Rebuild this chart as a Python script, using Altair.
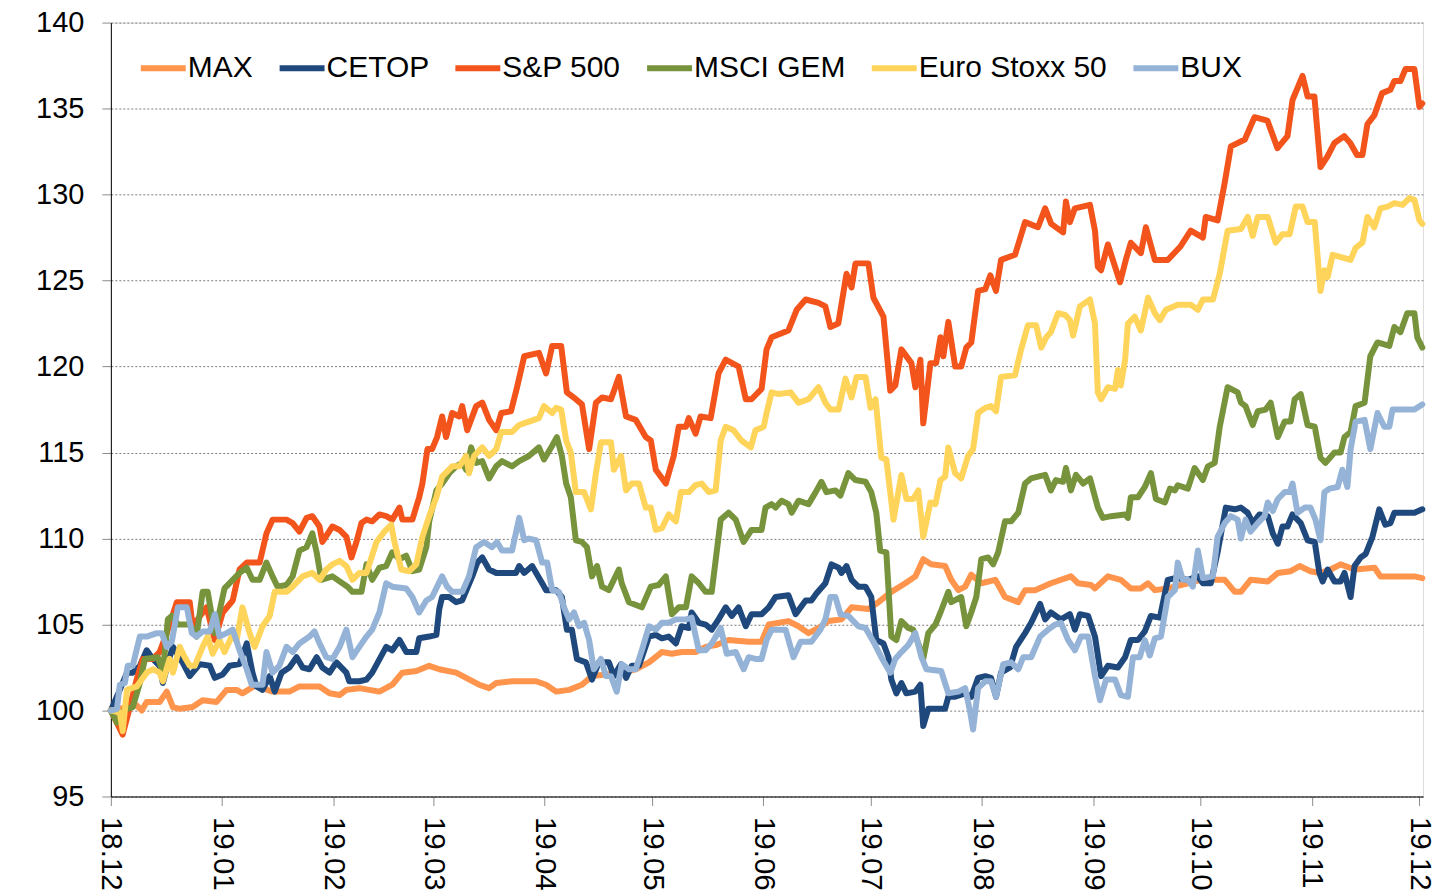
import altair as alt
import pandas as pd

START = pd.Timestamp("2018-12-01")
SERIES = ["MAX", "CETOP", "S&P 500", "MSCI GEM", "Euro Stoxx 50", "BUX"]
COLORS = ["#FF944D", "#1F497D", "#F2541B", "#77933C", "#FFD45A", "#95B3D7"]
Y_TICKS = [95, 100, 105, 110, 115, 120, 125, 130, 135, 140]
MONTHS = [(2018, 12)] + [(2019, m) for m in range(1, 13)]

# (days since 2018-12-01, index value)
MAX_PTS = [(0,100),(7.2,100.3),(8.6,100.0),(10.0,100.5),(13.6,100.5),(15.6,101.1),(17.3,100.2),(19.2,100.1),(22.8,100.2),(25.6,100.6),(29.5,100.5),(32.3,101.2),(35.1,101.2),(36.7,101.0),(40.6,101.5),(42.3,101.3),(45.1,101.1),(49.8,101.1),(52.6,101.4),(58.2,101.4),(61.0,101.0),(63.8,100.9),(65.7,101.2),(69.3,101.3),(74.9,101.1),(78.5,101.5),(81.3,102.2),(85.2,102.3),(88.8,102.6),(91.6,102.4),(96.3,102.2),(99.1,101.9),(102.7,101.5),(105.5,101.3),(107.5,101.6),(111.9,101.7),(118.6,101.7),(121.4,101.5),(124.2,101.1),(127.8,101.2),(131.4,101.5),(134.2,102.0),(138.1,102.1),(142.5,102.2),(146.4,102.4),(150.1,102.8),(153.7,103.4),(156.5,103.3),(159.2,103.4),(163.1,103.4),(165.9,103.7),(168.7,103.8),(172.3,104.1),(177.9,104.0),(181.5,104.0),(183.5,105.0),(189.0,105.2),(191.8,104.9),(194.6,104.5),(197.4,104.8),(200.2,105.2),(203.8,105.3),(206.6,106.0),(211.3,105.9),(214.1,106.3),(217.7,106.9),(221.6,107.4),(224.4,107.8),(226.6,108.8),(228.8,108.5),(232.7,108.4),(234.4,107.6),(236.4,107.0),(238.3,107.2),(240.0,107.9),(242.8,107.4),(246.7,107.6),(249.4,106.6),(253.1,106.3),(255.0,107.0),(257.8,107.0),(262.2,107.4),(267.8,107.8),(269.8,107.4),(273.4,107.3),(274.5,107.1),(278.1,107.8),(281.7,107.6),(284.5,107.1),(287.3,107.1),(289.3,107.4),(291.2,107.0),(294.8,107.1),(300.4,107.4),(304.0,107.6),(310.7,107.6),(313.5,106.9),(315.2,106.9),(317.9,107.6),(322.7,107.5),(325.5,108.0),(329.1,108.1),(331.6,108.4),(334.6,108.1),(337.4,108.0),(340.2,108.2),(343.0,108.5),(346.9,108.2),(352.5,108.3),(354.1,107.8),(359.7,107.8),(363.6,107.8),(365.8,107.7)]

CETOP_PTS = [(0,100),(2.5,101.2),(4.5,102.2),(6.1,102.2),(8.1,102.6),(10.0,103.5),(11.7,103.0),(13.6,102.6),(14.5,101.6),(16.4,103.1),(17.3,103.7),(20.0,102.8),(22.0,102.0),(24.8,102.7),(27.6,102.6),(29.0,101.9),(31.2,102.1),(33.1,102.6),(35.9,102.7),(37.9,103.9),(39.5,102.2),(40.6,101.4),(42.3,101.2),(44.3,102.0),(45.7,101.1),(47.6,102.2),(49.8,102.5),(51.8,103.1),(53.5,102.5),(55.4,102.4),(57.4,103.1),(59.0,102.5),(61.0,102.2),(62.9,102.8),(65.7,102.2),(66.5,101.7),(69.3,101.7),(71.3,101.8),(72.9,102.2),(76.8,103.7),(78.5,103.5),(80.5,104.1),(82.4,103.4),(85.2,103.4),(86.0,104.2),(88.8,104.3),(90.8,104.4),(91.6,105.9),(92.4,106.6),(94.4,106.6),(96.3,106.3),(98.0,106.4),(99.4,107.1),(100.8,107.8),(102.2,108.6),(103.6,108.9),(105.5,108.2),(107.5,108.0),(113.0,108.0),(113.9,108.4),(115.3,108.0),(117.5,108.4),(120.3,107.4),(121.4,107.0),(124.2,107.0),(125.8,106.6),(127.2,104.7),(128.6,104.7),(130.0,103.0),(132.5,102.8),(134.2,101.8),(136.1,102.8),(138.9,102.8),(140.3,102.0),(142.3,102.7),(143.7,101.9),(145.3,102.6),(147.3,102.6),(150.1,104.3),(152.0,104.4),(153.7,104.2),(155.6,104.3),(157.6,103.9),(159.2,104.9),(161.2,104.8),(162.0,105.7),(164.0,105.1),(165.9,105.0),(167.6,104.7),(169.5,105.3),(171.5,106.0),(173.2,105.5),(175.1,106.0),(177.1,104.9),(178.7,105.6),(181.5,105.6),(183.5,106.0),(185.4,106.6),(189.0,106.7),(191.0,105.6),(193.8,106.4),(195.4,106.4),(196.8,106.8),(199.3,107.4),(201.0,108.5),(203.0,108.3),(203.8,108.0),(205.2,108.4),(206.6,107.6),(208.5,107.2),(210.5,107.2),(212.1,106.6),(213.5,104.1),(215.5,103.9),(216.9,103.1),(217.7,101.8),(219.1,101.0),(220.5,101.6),(221.9,101.0),(224.4,101.1),(225.8,101.5),(226.6,99.1),(228.0,100.1),(232.7,100.1),(233.6,100.8),(235.5,100.8),(238.3,101.0),(240.0,100.8),(241.9,101.9),(243.9,102.0),(245.5,101.9),(246.9,100.8),(248.3,102.2),(250.8,102.5),(252.5,103.7),(255.0,104.5),(256.7,105.1),(259.2,106.2),(260.6,105.3),(262.2,105.7),(265.0,105.3),(267.5,105.6),(268.9,104.7),(270.3,105.6),(272.6,105.5),(274.5,104.3),(276.2,102.0),(278.1,102.6),(280.9,102.5),(282.9,103.1),(284.5,104.1),(286.5,104.1),(288.4,104.6),(290.1,105.5),(292.6,105.4),(294.8,107.6),(296.8,107.7),(300.4,107.6),(303.2,107.8),(304.6,107.4),(306.8,107.4),(308.7,109.2),(311.0,111.8),(313.5,111.7),(315.2,111.8),(317.1,111.5),(318.5,110.9),(320.4,111.4),(322.7,111.3),(324.1,110.3),(325.5,109.7),(326.8,110.7),(328.2,110.7),(329.6,111.4),(331.9,110.9),(333.8,109.9),(335.8,109.8),(337.1,108.0),(338.0,107.5),(339.4,108.2),(341.3,107.5),(343.0,107.5),(344.1,108.0),(345.8,106.6),(346.9,108.4),(348.6,108.9),(350.0,109.1),(351.9,110.1),(353.8,111.7),(355.5,110.8),(356.9,110.9),(358.0,111.5),(363.6,111.5),(365.8,111.7)]

SP500_PTS = [(0,100),(3.3,98.6),(5.3,100.2),(7.2,101.8),(8.9,103.0),(11.7,103.0),(13.6,103.4),(15.6,104.5),(18.4,106.3),(22.0,106.3),(22.8,104.9),(26.7,106.0),(29.0,104.1),(31.2,105.7),(34.0,106.4),(35.9,108.2),(37.9,108.6),(41.5,108.6),(43.4,110.3),(45.1,111.1),(49.0,111.1),(50.7,110.9),(52.6,110.4),(54.6,111.2),(56.2,111.3),(58.2,110.7),(59.0,109.8),(61.8,110.7),(63.8,110.5),(65.7,110.1),(67.1,108.9),(68.5,109.8),(69.9,110.9),(71.3,111.1),(72.9,111.0),(74.9,111.4),(76.8,111.3),(78.5,111.1),(80.5,111.8),(81.3,111.1),(84.1,111.1),(86.0,112.4),(86.9,113.2),(88.3,115.2),(89.6,115.2),(91.0,115.9),(92.4,117.1),(93.5,115.9),(95.2,117.3),(97.2,117.1),(98.0,117.7),(99.4,116.3),(101.9,117.7),(103.6,117.9),(105.5,116.9),(107.5,116.3),(108.9,117.3),(111.6,117.4),(113.3,118.8),(115.3,120.6),(119.4,120.8),(121.4,119.6),(123.1,121.2),(125.6,121.2),(127.2,118.5),(129.7,118.1),(131.4,117.8),(133.4,115.2),(135.3,117.9),(137.0,118.2),(139.5,118.1),(141.7,119.4),(143.7,117.1),(146.4,116.9),(149.2,115.9),(150.6,115.7),(152.0,114.0),(154.8,113.2),(157.0,114.8),(158.4,116.5),(160.4,116.5),(161.2,117.0),(163.1,116.1),(164.5,117.1),(167.3,117.0),(169.5,119.6),(171.5,120.4),(175.1,120.0),(177.1,118.1),(178.7,118.1),(181.5,118.7),(182.9,121.0),(184.3,121.7),(189.0,122.1),(191.3,123.3),(193.8,123.9),(197.4,123.7),(199.3,123.5),(200.7,122.3),(202.9,122.5),(205.2,125.4),(206.6,124.6),(207.7,126.0),(211.3,126.0),(212.7,124.0),(215.5,122.9),(217.4,118.6),(218.8,118.9),(220.5,121.0),(223.3,120.2),(224.4,118.8),(225.8,120.4),(226.6,116.7),(228.6,120.2),(230.2,120.2),(231.4,121.7),(232.2,120.6),(233.6,122.6),(235.5,120.0),(237.2,120.0),(238.6,121.1),(240.0,121.4),(241.9,124.4),(243.9,124.5),(245.3,125.3),(246.9,124.4),(248.3,126.2),(252.2,126.5),(255.0,128.4),(258.6,128.1),(260.6,129.2),(262.3,128.3),(265.6,127.8),(266.4,129.6),(267.5,128.4),(268.9,129.2),(273.1,129.4),(274.5,127.9),(275.3,125.8),(276.2,125.6),(278.1,127.1),(281.5,124.9),(283.1,126.2),(284.5,127.2),(287.3,126.6),(288.7,128.1),(291.2,126.2),(294.8,126.2),(298.4,127.0),(301.2,127.9),(304.6,127.5),(305.4,128.7),(308.7,128.5),(310.7,130.7),(312.4,132.8),(316.3,133.2),(319.0,134.5),(322.6,134.3),(325.4,132.7),(328.2,133.4),(329.6,135.5),(332.4,136.9),(333.8,135.7),(335.7,135.7),(337.4,131.6),(339.3,132.2),(341.3,133.0),(344.0,133.4),(345.7,133.0),(347.6,132.3),(349.1,132.3),(350.5,134.1),(352.4,134.6),(354.6,135.9),(356.9,136.1),(358.0,136.6),(359.7,136.6),(361.1,137.3),(363.6,137.3),(365.0,135.1),(365.8,135.3)]

GEM_PTS = [(0,100),(1.7,99.3),(3.1,99.9),(4.5,100.1),(6.1,100.2),(8.1,101.6),(9.5,103.0),(13.1,103.1),(14.5,102.2),(15.9,105.3),(17.0,105.5),(18.7,105.0),(22.0,105.0),(23.9,104.3),(25.6,106.9),(27.0,106.9),(29.0,104.5),(31.7,107.1),(35.9,108.0),(37.9,108.3),(39.5,107.6),(41.5,107.6),(43.4,108.6),(45.1,107.8),(46.5,107.2),(49.0,107.3),(50.7,107.8),(52.6,109.3),(54.6,109.5),(56.2,110.3),(57.4,109.2),(58.7,107.6),(61.8,107.8),(66.0,107.2),(67.4,106.9),(69.9,106.9),(71.3,108.5),(72.9,107.6),(74.9,108.3),(76.8,108.4),(78.5,109.2),(80.5,108.8),(82.4,109.0),(84.1,108.1),(86.0,108.2),(88.0,109.5),(88.8,111.0),(90.8,112.8),(92.4,113.2),(94.4,113.8),(96.3,114.2),(98.0,114.4),(99.1,114.0),(100.5,115.3),(101.9,114.4),(103.6,114.5),(105.5,113.5),(107.5,114.2),(109.1,114.5),(111.9,114.2),(113.9,114.5),(116.6,114.8),(119.4,115.3),(120.8,114.6),(123.1,115.4),(124.4,115.9),(125.8,114.8),(127.0,113.2),(128.3,112.4),(129.7,109.9),(131.4,109.8),(132.8,109.5),(134.2,107.8),(135.6,108.4),(137.0,107.2),(138.9,107.0),(141.7,108.2),(142.5,107.4),(144.5,106.3),(148.1,106.0),(150.6,107.2),(152.8,107.3),(154.8,107.8),(156.5,105.6),(158.4,106.0),(160.4,106.0),(162.0,107.8),(164.0,107.4),(165.9,106.9),(167.6,106.9),(170.1,111.1),(172.3,111.5),(174.3,111.1),(176.5,109.8),(178.7,110.5),(181.5,110.5),(182.6,111.8),(184.3,112.0),(185.4,111.8),(187.1,112.2),(189.0,112.0),(189.9,111.5),(191.8,112.2),(194.6,112.0),(196.6,112.7),(198.2,113.3),(199.6,112.7),(202.1,112.8),(203.5,112.5),(205.7,113.8),(207.7,113.4),(210.5,113.3),(212.1,112.7),(213.5,111.5),(214.6,109.3),(216.3,109.2),(217.7,104.3),(219.1,104.1),(220.5,105.2),(222.4,104.8),(223.8,104.7),(225.2,103.9),(226.6,103.0),(228.0,104.5),(230.0,105.0),(231.4,105.7),(233.6,106.9),(234.4,106.3),(237.2,106.6),(238.6,104.9),(240.0,105.7),(241.4,106.6),(242.8,108.8),(244.7,108.9),(246.1,108.5),(247.5,109.2),(249.4,111.0),(251.1,111.0),(253.1,111.5),(255.0,113.2),(256.7,113.5),(260.6,113.7),(262.2,112.8),(263.6,113.4),(265.6,113.3),(266.4,114.1),(267.8,112.8),(269.2,113.7),(271.2,113.2),(273.1,113.5),(275.3,111.8),(276.7,111.2),(279.0,111.3),(282.9,111.4),(283.7,111.2),(284.5,112.4),(286.5,112.4),(288.4,113.0),(290.1,113.8),(291.5,112.3),(294.0,112.1),(295.4,112.9),(296.8,112.8),(297.6,113.1),(300.4,112.9),(302.3,114.1),(304.6,113.4),(306.0,114.2),(307.9,114.4),(309.3,116.5),(311.5,118.8),(314.3,118.5),(315.2,117.9),(316.5,117.7),(318.5,116.6),(319.9,117.4),(322.1,117.5),(323.5,117.9),(325.5,115.9),(327.4,116.8),(329.1,116.8),(330.2,118.1),(331.9,118.4),(333.8,116.6),(335.8,116.5),(337.4,114.7),(338.8,114.4),(341.3,115.0),(343.0,115.0),(344.1,115.9),(345.8,116.2),(347.2,117.7),(349.7,117.9),(351.3,120.6),(353.3,121.4),(356.6,121.2),(358.0,122.3),(359.7,122.0),(361.6,123.1),(363.6,123.1),(364.4,121.7),(365.8,121.1)]

EURO_PTS = [(0,100),(2.5,99.9),(3.3,98.8),(4.5,101.2),(7.2,101.4),(10.0,102.2),(11.7,102.4),(13.6,102.2),(14.5,101.7),(16.4,103.0),(17.3,102.2),(19.2,103.7),(20.6,103.1),(22.0,102.6),(23.4,102.6),(25.6,103.7),(27.0,104.3),(28.4,103.3),(30.3,104.1),(31.7,103.4),(33.7,104.3),(35.1,104.1),(36.7,106.0),(38.7,104.5),(40.1,103.7),(42.3,104.9),(44.3,105.5),(45.7,106.9),(49.0,106.9),(50.7,107.2),(53.5,107.8),(56.2,108.0),(58.2,107.6),(60.1,108.2),(61.8,108.5),(63.8,108.7),(65.7,108.4),(67.4,107.6),(69.3,108.0),(71.3,108.0),(74.1,109.8),(76.3,110.4),(78.2,110.8),(79.1,109.8),(81.0,108.2),(83.2,108.1),(85.2,108.5),(86.9,110.1),(88.8,111.3),(90.8,112.4),(92.4,113.6),(95.2,114.2),(97.2,114.2),(99.1,114.8),(99.9,113.8),(101.3,114.8),(103.6,115.3),(105.5,114.8),(107.5,115.2),(108.9,116.2),(111.9,116.2),(113.9,116.6),(116.6,116.8),(119.4,117.0),(120.8,117.7),(123.1,117.3),(124.2,117.6),(125.6,117.5),(127.0,115.7),(128.3,115.0),(129.7,112.7),(132.0,112.7),(133.9,111.7),(135.3,113.8),(136.7,115.6),(139.5,115.6),(140.3,114.0),(142.3,114.8),(143.7,112.8),(145.3,113.2),(147.3,113.2),(149.2,111.8),(150.6,111.8),(152.0,110.5),(153.7,110.6),(155.6,111.4),(157.6,111.0),(159.0,112.7),(161.2,112.7),(163.1,113.1),(164.8,113.2),(166.8,112.7),(168.7,112.8),(170.1,115.7),(171.5,116.5),(173.7,116.3),(175.9,115.7),(178.5,115.3),(179.8,116.3),(182.1,116.5),(182.9,117.3),(184.3,118.5),(186.3,118.4),(189.6,118.5),(191.8,117.9),(194.6,118.1),(197.4,118.8),(199.3,117.9),(200.7,117.5),(203.0,117.5),(204.9,119.3),(206.6,118.2),(208.0,119.4),(210.5,119.4),(211.9,117.6),(213.3,118.1),(214.9,114.7),(216.3,114.6),(218.3,111.1),(220.5,113.7),(221.9,112.3),(223.8,112.3),(225.2,112.8),(226.6,110.1),(228.6,112.1),(230.0,112.0),(231.4,113.4),(232.7,113.6),(233.6,115.3),(235.5,113.8),(237.2,113.5),(239.1,114.8),(240.5,115.2),(241.9,117.3),(243.9,117.6),(245.5,117.7),(246.9,117.4),(248.3,119.4),(252.2,119.5),(253.9,121.0),(255.8,122.4),(258.1,122.4),(259.5,121.1),(260.9,121.7),(262.2,122.0),(264.2,123.1),(266.2,123.0),(267.5,122.7),(268.4,121.8),(270.3,123.5),(273.1,123.9),(274.5,122.5),(275.3,118.5),(276.2,118.1),(278.1,118.8),(280.1,118.7),(280.9,119.8),(281.7,118.9),(282.9,120.4),(283.7,122.5),(285.6,122.9),(287.3,122.1),(289.3,124.0),(291.2,123.1),(292.6,122.7),(294.3,123.3),(297.6,123.6),(301.2,123.6),(303.2,123.3),(304.6,123.9),(307.4,123.9),(309.3,125.4),(311.5,127.9),(315.2,128.0),(317.1,128.7),(318.5,127.6),(319.9,128.7),(322.7,128.7),(324.9,127.2),(326.8,127.7),(328.8,127.7),(330.5,129.3),(332.4,129.3),(333.8,128.4),(335.8,128.4),(337.4,124.4),(338.5,125.6),(339.4,125.2),(340.8,126.5),(344.1,126.3),(345.8,126.2),(347.2,126.9),(349.1,127.2),(350.5,128.7),(352.4,128.1),(354.1,129.2),(356.1,129.3),(358.0,129.5),(360.3,129.4),(362.2,129.8),(363.6,129.7),(365.0,128.5),(365.8,128.3)]

BUX_PTS = [(0,100),(1.7,100.1),(2.5,101.5),(3.9,101.6),(4.7,102.6),(6.1,102.6),(8.1,104.3),(10.0,104.3),(12.8,104.5),(14.2,104.5),(15.6,103.7),(17.0,104.0),(18.7,106.0),(21.2,106.0),(22.6,104.5),(23.9,104.3),(25.6,104.6),(27.6,104.6),(29.0,105.6),(30.3,104.3),(32.3,104.5),(34.0,104.7),(35.9,103.5),(37.9,102.4),(39.3,101.5),(42.3,101.5),(43.4,103.4),(45.1,102.2),(47.0,102.6),(49.0,103.7),(50.7,103.4),(52.6,103.9),(55.4,104.3),(56.8,104.6),(58.2,103.9),(60.1,103.1),(61.8,103.0),(63.8,103.7),(65.7,104.7),(67.4,103.1),(69.3,103.7),(71.3,104.3),(72.9,104.7),(74.9,105.7),(76.8,107.4),(78.5,107.2),(82.4,107.1),(84.1,106.6),(86.0,105.7),(88.0,106.4),(89.6,106.6),(92.4,107.8),(93.8,107.2),(95.2,106.9),(98.0,106.9),(99.9,107.8),(101.9,109.5),(104.1,109.8),(106.3,109.5),(107.7,109.8),(109.1,109.3),(111.9,109.3),(113.9,111.2),(115.3,109.9),(116.6,110.0),(118.6,109.9),(120.3,108.6),(121.7,108.6),(123.1,107.0),(125.0,106.9),(126.4,106.0),(127.8,105.3),(129.2,105.7),(130.6,104.9),(132.0,105.1),(133.4,104.1),(134.7,102.4),(136.7,103.0),(138.1,102.0),(139.5,102.0),(141.1,101.1),(142.5,102.7),(144.5,102.4),(146.4,102.4),(148.1,103.5),(150.1,104.9),(152.0,104.7),(153.7,105.1),(155.6,105.1),(157.6,105.3),(160.4,105.3),(162.0,105.4),(164.0,103.5),(165.9,103.5),(167.6,103.9),(170.1,104.8),(171.8,103.3),(174.3,103.4),(176.5,102.4),(177.9,103.1),(179.8,103.0),(181.5,103.0),(182.9,104.1),(184.3,104.7),(188.2,104.7),(190.4,103.1),(192.4,104.0),(195.4,104.0),(197.9,104.7),(199.3,105.3),(200.7,106.6),(202.1,106.6),(203.5,105.6),(205.7,105.5),(208.5,104.9),(210.5,104.8),(212.7,104.0),(214.9,103.1),(217.4,102.2),(218.8,103.0),(220.5,103.4),(222.4,103.8),(224.4,104.5),(226.1,103.1),(227.5,102.4),(231.6,102.3),(233.6,101.0),(236.4,101.1),(238.3,101.3),(239.7,99.9),(240.5,98.9),(241.9,101.3),(243.9,101.7),(245.5,101.7),(246.9,100.8),(248.9,102.7),(251.1,102.8),(253.1,102.4),(254.5,103.1),(256.7,103.1),(259.2,104.3),(261.4,104.7),(263.4,105.0),(265.0,105.1),(267.0,104.1),(268.9,103.5),(270.6,104.3),(272.6,104.3),(274.5,102.0),(275.9,100.6),(277.6,101.8),(280.1,101.8),(281.7,100.9),(283.7,100.8),(285.1,103.1),(287.0,103.1),(288.4,104.1),(289.8,103.2),(291.2,104.2),(292.9,104.3),(294.8,106.6),(296.8,107.0),(297.6,108.6),(299.0,107.6),(300.4,107.6),(301.8,107.2),(303.2,109.3),(304.6,107.7),(307.4,107.8),(308.7,110.1),(310.7,110.9),(312.4,111.3),(314.3,111.1),(315.2,110.0),(316.5,111.1),(317.9,110.4),(319.9,110.9),(321.8,111.3),(322.7,112.1),(324.1,111.6),(325.5,112.3),(327.4,112.7),(328.8,112.7),(329.6,113.2),(331.0,111.5),(333.0,111.8),(334.6,111.8),(336.0,111.1),(337.4,109.9),(338.5,112.7),(339.9,112.9),(342.2,113.0),(343.5,114.0),(344.9,113.0),(345.8,115.2),(347.2,116.8),(349.7,116.9),(351.3,115.2),(353.3,117.3),(355.2,116.5),(356.6,116.5),(357.5,117.5),(363.6,117.5),(365.8,117.8)]

ALL_PTS = [MAX_PTS, CETOP_PTS, SP500_PTS, GEM_PTS, EURO_PTS, BUX_PTS]

rows = []
for order, (name, pts) in enumerate(zip(SERIES, ALL_PTS)):
    for d, v in pts:
        ts = START + pd.Timedelta(days=d)
        rows.append({"date": ts.strftime("%Y-%m-%dT%H:%M:%S"), "series": name, "value": v, "k": order})
df = pd.DataFrame(rows)

FONT = "Liberation Sans"
month_ticks = [alt.DateTime(year=y, month=m, date=1) for y, m in MONTHS]

chart = alt.Chart(df).mark_line(
    strokeWidth=6, strokeCap="round", strokeJoin="round"
).encode(
    x=alt.X("date:T",
            scale=alt.Scale(domain=[alt.DateTime(year=2018, month=12, date=1),
                                    alt.DateTime(year=2019, month=12, date=2)]),
            axis=alt.Axis(values=month_ticks, format="%y.%m", labelAngle=90,
                          labelFontSize=29.5, labelFont=FONT, labelColor="black",
                          tickSize=9, tickColor="#8c8c8c", labelPadding=11,
                          domainColor="black", grid=False, title=None,
                          labelOverlap=False)),
    y=alt.Y("value:Q",
            scale=alt.Scale(domain=[95, 140], nice=False, zero=False),
            axis=alt.Axis(values=Y_TICKS, labelFontSize=29, labelFont=FONT,
                          labelColor="black", tickSize=9, tickColor="#8c8c8c",
                          labelPadding=18, domainColor="black", grid=True,
                          gridDash=[2, 2], gridColor="#7a7a7a", gridWidth=1,
                          title=None)),
    color=alt.Color("series:N",
                    scale=alt.Scale(domain=SERIES, range=COLORS),
                    title=None,
                    legend=alt.Legend(orient="none", legendX=27, legendY=20,
                                      direction="horizontal", symbolType="stroke",
                                      symbolSize=2025, symbolStrokeWidth=6,
                                      labelFontSize=30, labelFont=FONT,
                                      labelColor="black", columnPadding=14,
                                      labelOffset={"expr": "-1"}, padding=0,
                                      symbolOpacity=1, labelLimit=400)),
    detail="k:O",
).properties(
    width=1314, height=775,
    autosize=alt.AutoSizeParams(type="none"),
    padding={"left": 103, "top": 14, "right": 10, "bottom": 96},
).configure_view(strokeWidth=0).configure(background="white")

chart.save("out.html", embed_options={"renderer": "svg", "actions": False})
